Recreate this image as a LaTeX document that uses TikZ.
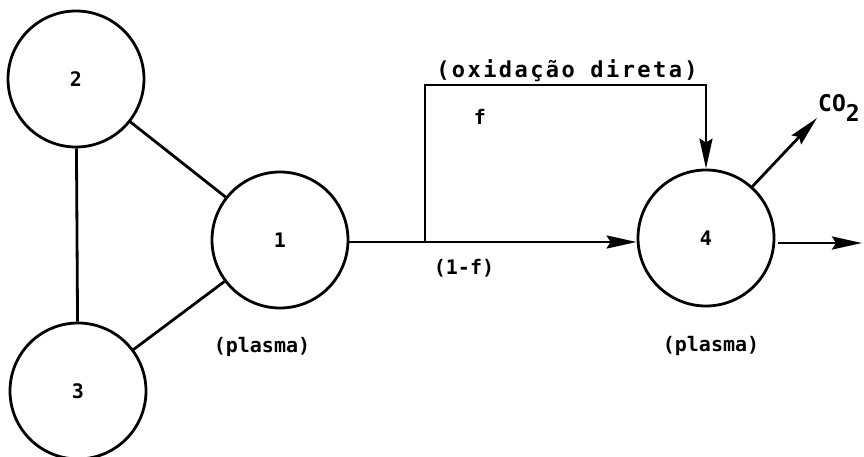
\documentclass[tikz,border=0pt]{standalone}
\usepackage{fontspec}
\setmainfont{DejaVu Sans Mono}
\newfontfamily\spacedmono[LetterSpace=11]{DejaVu Sans Mono}
\usetikzlibrary{arrows.meta}
\begin{document}
\begin{tikzpicture}[x=1pt,y=-1pt,
  every node/.style={font=\fontsize{20}{22}\selectfont\bfseries},
  tank/.style={circle,draw,line width=2.8pt,minimum size=136pt,inner sep=0pt},
  link/.style={line width=2.8pt},
  flow/.style={line width=2.8pt,-{Stealth[length=30pt,width=13pt,inset=4pt]}},
  lbl/.style={inner sep=0pt}]
\useasboundingbox (0,0) rectangle (864,457);
\node[tank] (c2) at (76,79) {2};
\node[tank] (c3) at (78,391) {3};
\node[tank] (c1) at (280,240) {1};
\node[tank] (c4) at (706,238) {4};
\draw[link] (c2) -- (c1);
\draw[link] (c2) -- (c3);
\draw[link] (c3) -- (c1);
\coordinate (j) at (425,242);
\coordinate (top) at (425,85);
\draw[flow] (c1.east |- j) -- (j) -- (c4.west |- j);
\draw[flow] (j) -- (top) -| (c4.north);
\coordinate (co2end) at (817,118);
\draw[flow] (c4.48) -- (co2end);
\coordinate (outstart) at (778,243);
\coordinate (outend) at (862,243);
\draw[flow] (outstart) -- (outend);
\node[lbl,font=\fontsize{22}{24}\selectfont\bfseries] (ox) at (567,71) {\spacedmono (oxidação direta)};
\node[lbl] (f) at (480,117) {f};
\node[lbl] (omf) at (464,268) {(1-f)};
\node[lbl] (pl1) at (262,347) {(plasma)};
\node[lbl] (pl4) at (711,346) {(plasma)};
\node[lbl,anchor=west,font=\fontsize{23}{25}\selectfont\bfseries] (co2) at (818,108) {CO\raisebox{-10pt}{2}};
\end{tikzpicture}
\end{document}
